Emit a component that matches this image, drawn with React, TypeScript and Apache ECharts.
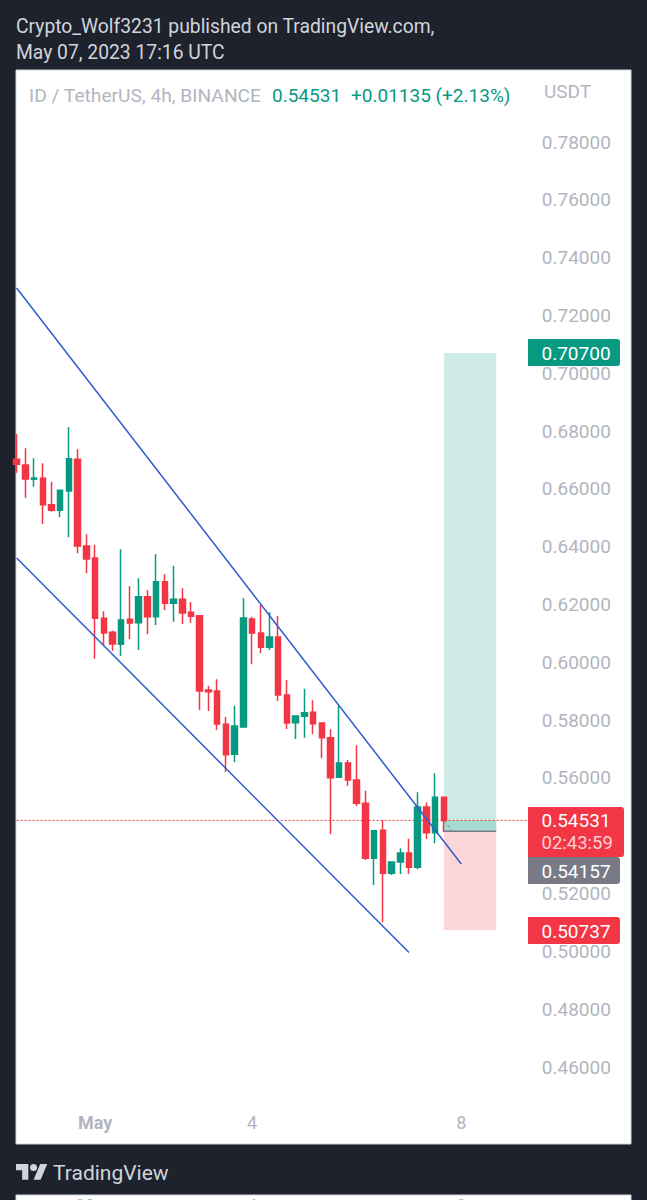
import React, { useEffect, useRef } from "react";
import * as echarts from "echarts";

const opens = [.67022,.66826,.66330,.66365,.65454,.65258,.65927,.67022,.64024,.63609,.61521,.61037,.60622,.61487,.61372,.62271,.61579,.62790,.62040,.62179,.61729,.61614,.59042,.59008,.57855,.56817,.57762,.61499,.61014,.60518,.60876,.58869,.57912,.58131,.58270,.57901,.57393,.56021,.56516,.55928,.55121,.53218,.54187,.52699,.53091,.53403,.52907,.54994,.54106,.55328];
const closes = [.66849,.66342,.66376,.65454,.65258,.65950,.67045,.64024,.63574,.61521,.61014,.60634,.61464,.61360,.62271,.61579,.62790,.62040,.62179,.61706,.61591,.59008,.58985,.57866,.56805,.57797,.61533,.61014,.60518,.60876,.58869,.57901,.58143,.58258,.57878,.57393,.56009,.56517,.55928,.55121,.53218,.54175,.52699,.53091,.53403,.52907,.54994,.54106,.55328,.54531];
const lows = [.66561,.65696,.66077,.64785,.65212,.65016,.64324,.63770,.63078,.60126,.60599,.60403,.60218,.60807,.60426,.60968,.61291,.61810,.61406,.61325,.61372,.58350,.58316,.57659,.56206,.56540,.57739,.59930,.60311,.60426,.58662,.57693,.57347,.57393,.57509,.56678,.54049,.56021,.55732,.55029,.53160,.52296,.51004,.52642,.52676,.52676,.52838,.53887,.53737,.54141];
const highs = [.67899,.67403,.67057,.66884,.66250,.65950,.68129,.67368,.64428,.64070,.61764,.61095,.63909,.62640,.62905,.62490,.63747,.63044,.63344,.62559,.62087,.61614,.59192,.59411,.58108,.58500,.62214,.61579,.61983,.61741,.61614,.59388,.58143,.59089,.58685,.57901,.57682,.58500,.56620,.57127,.55559,.54175,.54544,.53091,.53564,.53899,.55501,.55156,.56159,.55328];

const barCount = 61;
const dateLabels = [[9, "May"], [27, "4"], [51, "8"]] as const;
const priceTicks = [0.46, 0.48, 0.5, 0.52, 0.56, 0.58, 0.6, 0.62, 0.64, 0.66, 0.68, 0.7, 0.72, 0.74, 0.76, 0.78];
const upperChannel = [[0, 0.72949], [51, 0.53023]];
const lowerChannel = [[0, 0.63609], [45, 0.4996]];
const entryPrice = 0.54157;
const targetPrice = 0.707;
const stopPrice = 0.50737;
const lastPrice = 0.54531;
const positionStart = 49;
const positionEnd = 55;
const lastPriceLine = [[0, lastPrice], [60, lastPrice]];
const pathStub = [[49, 0.54531], [50, 0.54157]];

const GREEN = "#089981";
const RED = "#f23645";
const GREY = "#b2b5be";
const DARK = "#1e222d";
const FONT = "Roboto";

echarts.graphic.registerShape(
  "tvlogo",
  echarts.graphic.extendPath("M14 22H7V11H0V4h14v18zM28 22h-8l7.5-18h8L28 22zM24 8a4 4 0 1 1-8 0a4 4 0 1 1 8 0z", {}) as any
);

const txt = (text: string, x: number, y: number, fill: string, fontSize: number, extra: any = {}) => ({
  type: "text",
  x,
  y,
  z: 100,
  style: { text, fill, fontSize, fontFamily: FONT, textVerticalAlign: "middle", ...extra },
});

const badge = (x: number, y: number, w: number, h: number, fill: string) => ({
  type: "rect",
  z: 90,
  shape: { x, y, width: w, height: h, r: [0, 3, 3, 0] },
  style: { fill },
});

const plainLine = (data: number[][], lineStyle: any, z: number) => ({
  type: "line",
  z,
  silent: true,
  showSymbol: false,
  symbol: "none",
  data,
  lineStyle,
});

export default function App() {
  const ref = useRef<HTMLDivElement>(null);
  useEffect(() => {
    document.body.style.margin = "0";
    const chart = echarts.init(ref.current!, undefined, { renderer: "svg" });
    const categories = Array.from({ length: barCount }, (_, i) => {
      const hit = dateLabels.find((d) => d[0] === i);
      return hit ? hit[1] : "";
    });
    chart.setOption({
      animation: false,
      backgroundColor: DARK,
      grid: { left: 16.6, top: 70, width: 523.2, height: 1073 },
      xAxis: {
        type: "category",
        data: categories,
        boundaryGap: false,
        axisLine: { show: false },
        axisTick: { show: false },
        axisPointer: { show: false },
        splitLine: { show: false },
        axisLabel: {
          inside: true,
          margin: 12,
          interval: (i: number, v: string) => v !== "",
          fontFamily: FONT,
          fontSize: 18,
          color: GREY,
          formatter: (v: string) => (v === "May" ? `{b|${v}}` : v),
          rich: { b: { fontWeight: "bold", fontFamily: FONT, fontSize: 18, color: GREY } },
        },
      },
      yAxis: {
        type: "value",
        position: "right",
        min: 0.43371,
        max: 0.80491,
        axisLine: { show: false },
        axisTick: { show: false },
        splitLine: { show: false },
        axisLabel: {
          customValues: priceTicks,
          margin: 2,
          fontFamily: FONT,
          fontSize: 19,
          color: GREY,
          formatter: (v: number) => v.toFixed(5),
        },
      },
      series: [
        {
          type: "line",
          z: 1,
          data: [],
          silent: true,
          markArea: {
            silent: true,
            data: [
              [
                { xAxis: positionStart, yAxis: targetPrice, itemStyle: { color: "rgba(8,153,129,0.2)" } },
                { xAxis: positionEnd, yAxis: entryPrice },
              ],
              [
                { xAxis: positionStart, yAxis: lastPrice, itemStyle: { color: "rgba(8,153,129,0.2)" } },
                { xAxis: positionEnd, yAxis: entryPrice },
              ],
              [
                { xAxis: positionStart, yAxis: entryPrice, itemStyle: { color: "rgba(242,54,69,0.2)" } },
                { xAxis: positionEnd, yAxis: stopPrice },
              ],
            ],
          },
        },
        plainLine(lastPriceLine, { color: RED, type: [2, 2], width: 1 }, 2),
        plainLine([[positionStart, entryPrice], [positionEnd, entryPrice]], { color: "#787b86", width: 1.5 }, 2),
        plainLine(pathStub, { color: "#787b86", type: [3, 3], width: 1 }, 2),
        {
          type: "candlestick",
          z: 3,
          clip: true,
          barWidth: 6,
          data: opens.map((o, i) => [o, closes[i], lows[i], highs[i]]),
          itemStyle: { color: GREEN, color0: RED, borderColor: GREEN, borderColor0: RED, borderWidth: 1.5 },
        },
        plainLine(upperChannel, { color: "#2f5bd0", width: 1.5 }, 4),
        plainLine(lowerChannel, { color: "#2f5bd0", width: 1.5 }, 4),
      ],
      graphic: [
        { type: "rect", z: -10, shape: { x: 16, y: 70, width: 615, height: 1074 }, style: { fill: "#ffffff", stroke: "#d1d4dc", lineWidth: 1 } },
        { type: "rect", z: -10, shape: { x: 16, y: 1195, width: 615, height: 10 }, style: { fill: "#ffffff", stroke: "#d1d4dc", lineWidth: 1 } },
        txt("Crypto_Wolf3231 published on TradingView.com,", 16, 26, "#d1d4dc", 19.3),
        txt("May 07, 2023 17:16 UTC", 16, 52, "#d1d4dc", 19.3),
        txt("ID / TetherUS, 4h, BINANCE", 29, 95, GREY, 19.2),
        txt("0.54531", 272, 95, GREEN, 19),
        txt("+0.01135 (+2.13%)", 351, 95, GREEN, 19),
        txt("USDT", 544, 91, GREY, 19),
        badge(528, 339, 92, 27, GREEN),
        txt("0.70700", 541.5, 353, "#ffffff", 19),
        badge(528, 807, 96, 50, RED),
        txt("0.54531", 541.5, 820, "#ffffff", 19),
        txt("02:43:59", 541.5, 843, "#ffd0d4", 18.5),
        badge(528, 857, 92, 27, "#787b86"),
        txt("0.54157", 541.5, 871, "#ffffff", 19),
        badge(528, 917, 92, 27, RED),
        txt("0.50737", 541.5, 931, "#ffffff", 19),
        { type: "tvlogo", x: 16, y: 1160.5, scaleX: 0.88, scaleY: 0.88, z: 100, style: { fill: "#d1d4dc" } },
        txt("TradingView", 53, 1173, "#d1d4dc", 21),
        txt("May", 77, 1205, GREY, 18, { fontWeight: "bold" }),
        txt("4", 247, 1205, GREY, 18),
        txt("8", 456, 1205, GREY, 18),
      ],
    });
    return () => chart.dispose();
  }, []);
  return <div ref={ref} style={{ position: "absolute", left: 0, top: 0, width: 647, height: 1200 }} />;
}
